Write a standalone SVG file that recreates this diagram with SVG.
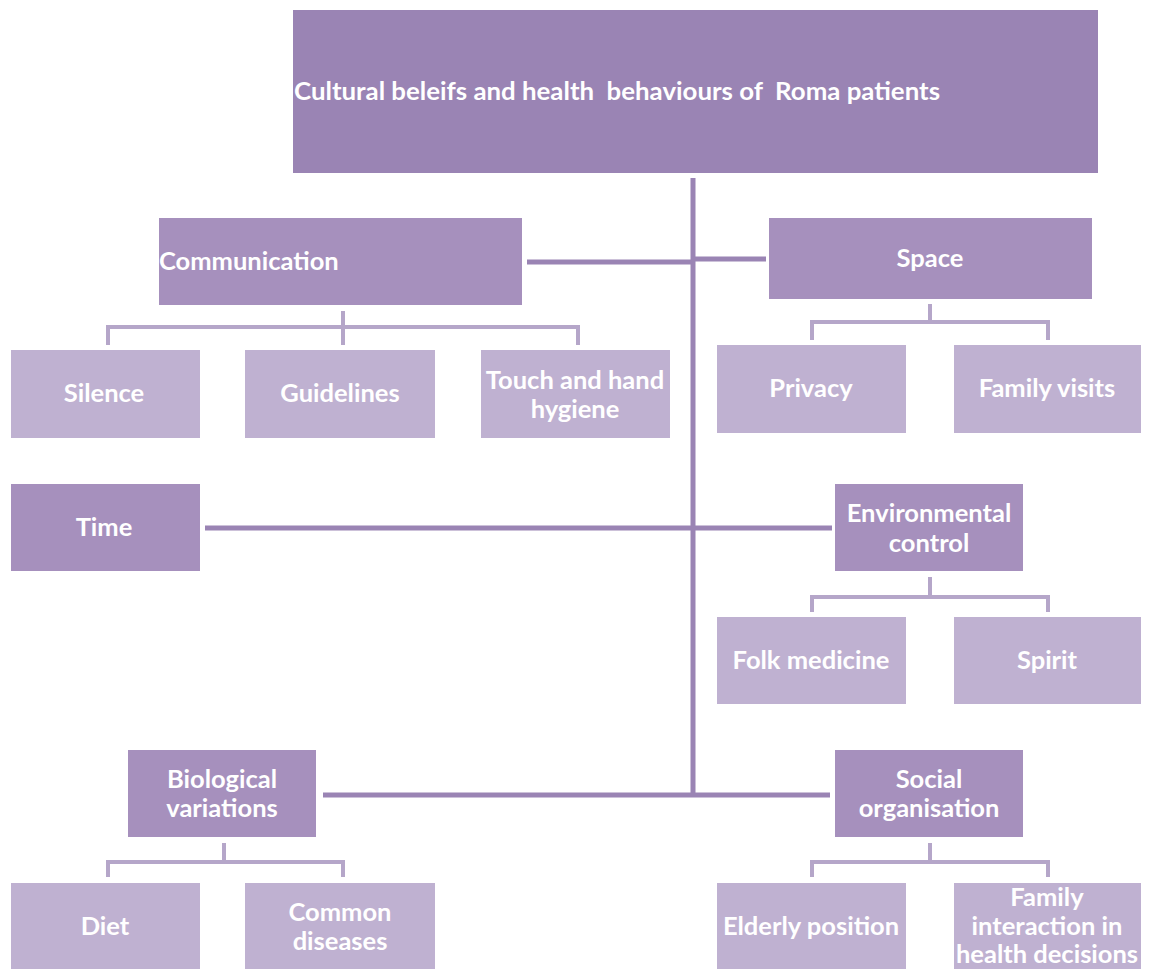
<svg xmlns="http://www.w3.org/2000/svg" width="1154" height="970" viewBox="0 0 1154 970">
<style>
.top{fill:#9a84b4}
.mid{fill:#a690bd}
.leaf{fill:#bfb1d1}
text{font-family:Lato,"Open Sans","Liberation Sans",sans-serif;font-weight:bold;fill:#ffffff;font-size:25.5px;text-anchor:middle}
.trunk{stroke:#9a84b4;stroke-width:5;fill:none}
.br{stroke:#b5a6c9;stroke-width:4;fill:none}
</style>
<rect width="1154" height="970" fill="#ffffff"/>
<g id="connectors">
<path class="trunk" d="M693,178 V797"/>
<path class="trunk" d="M527,262 H693"/>
<path class="trunk" d="M693,259 H766"/>
<path class="trunk" d="M205,528 H832"/>
<path class="trunk" d="M323,795 H830"/>
<path class="br" d="M108,345 V327 H578 V345 M343,311 V345"/>
<path class="br" d="M812,340 V322 H1048 V340 M930,304 V322"/>
<path class="br" d="M812,612 V597 H1048 V612 M930,577 V597"/>
<path class="br" d="M108,877 V862 H343 V877 M224,843 V862"/>
<path class="br" d="M812,877 V862 H1048 V877 M930,843 V862"/>
</g>
<g id="root"><rect class="top" x="293" y="10" width="805" height="163"/><text x="294" y="100" style="text-anchor:start;font-size:24px;white-space:pre" textLength="646" lengthAdjust="spacingAndGlyphs" xml:space="preserve">Cultural beleifs and health  behaviours of  Roma patients</text></g>
<g id="communication"><rect class="mid" x="159" y="218" width="363" height="87"/><text x="159" y="270" style="text-anchor:start">Communication</text></g>
<g id="space"><rect class="mid" x="769" y="218" width="323" height="81"/><text x="930" y="267">Space</text></g>
<g id="silence"><rect class="leaf" x="11" y="350" width="189" height="88"/><text x="104" y="402">Silence</text></g>
<g id="guidelines"><rect class="leaf" x="245" y="350" width="190" height="88"/><text x="340" y="402">Guidelines</text></g>
<g id="touch"><rect class="leaf" x="481" y="350" width="189" height="88"/><text x="575" y="389">Touch and hand</text><text x="575" y="418">hygiene</text></g>
<g id="privacy"><rect class="leaf" x="717" y="345" width="189" height="88"/><text x="811" y="397">Privacy</text></g>
<g id="family-visits"><rect class="leaf" x="954" y="345" width="187" height="88"/><text x="1047" y="397">Family visits</text></g>
<g id="time"><rect class="mid" x="11" y="484" width="189" height="87"/><text x="104" y="536">Time</text></g>
<g id="environmental"><rect class="mid" x="835" y="484" width="188" height="87"/><text x="929" y="522">Environmental</text><text x="929" y="552">control</text></g>
<g id="folk"><rect class="leaf" x="717" y="617" width="189" height="87"/><text x="811" y="669">Folk medicine</text></g>
<g id="spirit"><rect class="leaf" x="954" y="617" width="187" height="87"/><text x="1047" y="669">Spirit</text></g>
<g id="biological"><rect class="mid" x="128" y="750" width="188" height="87"/><text x="222" y="788">Biological</text><text x="222" y="817">variations</text></g>
<g id="social"><rect class="mid" x="835" y="750" width="188" height="87"/><text x="929" y="788">Social</text><text x="929" y="817">organisation</text></g>
<g id="diet"><rect class="leaf" x="11" y="883" width="189" height="86"/><text x="105" y="935">Diet</text></g>
<g id="common"><rect class="leaf" x="245" y="883" width="190" height="86"/><text x="340" y="921">Common</text><text x="340" y="950">diseases</text></g>
<g id="elderly"><rect class="leaf" x="717" y="883" width="189" height="86"/><text x="811" y="935">Elderly position</text></g>
<g id="family-interaction"><rect class="leaf" x="954" y="883" width="187" height="86"/><text x="1047" y="906">Family</text><text x="1047" y="935">interaction in</text><text x="1047" y="963">health decisions</text></g>
</svg>
